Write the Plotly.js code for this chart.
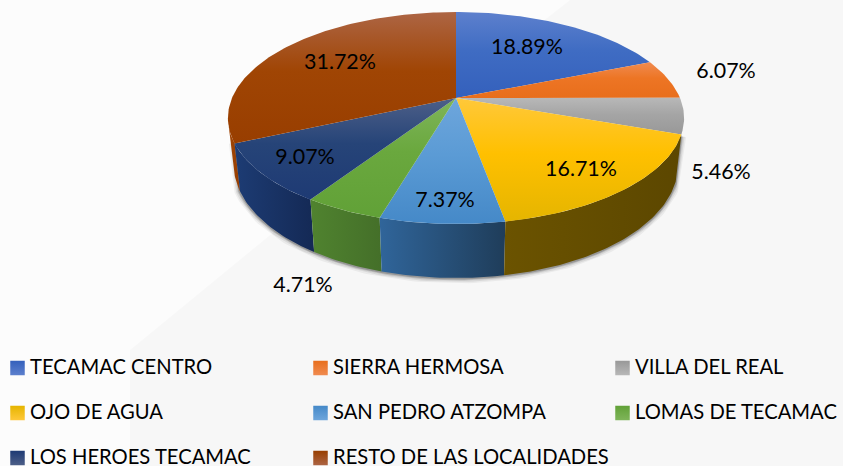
<!DOCTYPE html>
<html><head><meta charset="utf-8">
<script src="https://cdn.plot.ly/plotly-3.0.1.min.js"></script>
<style>html,body{margin:0;padding:0;background:#fcfcfc;overflow:hidden}</style></head>
<body><div id="chart" style="width:843px;height:466px"></div>
<script>
// ---- data ----
const categories = ["TECAMAC CENTRO","SIERRA HERMOSA","VILLA DEL REAL","OJO DE AGUA","SAN PEDRO ATZOMPA","LOMAS DE TECAMAC","LOS HEROES TECAMAC","RESTO DE LAS LOCALIDADES"];
const shares = [18.89,6.07,5.46,16.71,7.37,4.71,9.07,31.72];

// ---- styles ----
const topColors = [
  ["#5d80cd","#3f6cc3","#3460bc"],["#f08b50","#ed7524","#e86e1c"],["#b8b8b8","#a5a5a5","#989898"],
  ["#ffc83a","#ffc000","#e5b500"],["#6ea6dc","#5b9bd5","#4589c8"],["#7fb55a","#6aa83e","#61a137"],
  ["#4d5f88","#264478","#1e3a74"],["#ad6544","#a04504","#983e00"]];
const wallColors = [null,null,null,["#6b5300","#5c4700"],["#30659a","#1f3d5a"],["#50832f","#446f29"],["#1d3c74","#142955"],["#a04504","#963e02"]];
const legendTop = ["#5d80cd","#f08b50","#b8b8b8","#ffc83a","#6ea6dc","#7fb55a","#4d5f88","#ad6544"];
const legendBot = ["#3460bc","#e86e1c","#989898","#e5b500","#4589c8","#61a137","#1e3a74","#983e00"];
const FONT = "Lato, sans-serif";
// ---- geometry of the tilted disc, in chart pixels ----
const CX=456, CY=98, A=102.2, B=224, K=0.1887, WALL_FROM=109.5, WALL_TO=258;
const labelAt = [[527,48.5],[726,73],[721,174],[581,170.5],[445,201.5],[303,287],[305,158.5],[340,63.5]];
const legendX = [17.5,320.5,622.5], legendY = [368,413,458];

function rim(deg){const t=deg*Math.PI/180,u=Math.sin(t),v=-Math.cos(t),w=1-K*v;return {x:B*u/w,y:A*v/w,v};}
function topPt(d){const p=rim(d);return [CX+p.x,CY+p.y];}
function botPt(d){const p=rim(d);return [CX+p.x*0.975,CY+p.y+44+10*p.v];}
function arc(a,b,fn){const o=[],n=Math.max(2,Math.ceil(Math.abs(b-a)));for(let i=0;i<=n;i++)o.push(fn(a+(b-a)*i/n));return o;}
function hscale(c){return [[0,c[0]],[1,c[1]]];}
// the y axis runs downward, so the stops are listed from the lower edge up
function vscale(c){return [[0,c[2]],[0.55,c[1]],[1,c[0]]];}

const traces=[];
const base={type:'scatter',mode:'lines',fill:'toself',line:{width:0},hoverinfo:'skip',showlegend:false};
// soft shadow under the disc
[[11,0.05],[8,0.08],[5,0.12],[3,0.2]].forEach(([w,o])=>{
  const s=[topPt(WALL_FROM+1)].concat(arc(WALL_FROM,246,botPt));s.push(topPt(246));
  traces.push({type:'scatter',mode:'lines',x:s.map(p=>p[0]),y:s.map(p=>p[1]),line:{width:w,color:`rgba(0,0,0,${o})`},hoverinfo:'skip',showlegend:false});
});
let edges=[0];shares.forEach(s=>edges.push(edges[edges.length-1]+s*3.6));
// side walls
for(let i=shares.length-1;i>=0;i--){
  const a=Math.max(edges[i],WALL_FROM),b=Math.min(edges[i+1],WALL_TO);
  if(b<=a||!wallColors[i])continue;
  const pts=arc(a,b,topPt).concat(arc(b,a,botPt));pts.push(pts[0]);
  traces.push(Object.assign({},base,{x:pts.map(p=>p[0]),y:pts.map(p=>p[1]),
    fillgradient:{type:'horizontal',colorscale:hscale(wallColors[i])}}));
}
// top faces
shares.forEach((s,i)=>{
  const pts=[[CX,CY]].concat(arc(edges[i],edges[i+1],topPt));pts.push([CX,CY]);
  traces.push(Object.assign({},base,{name:categories[i],x:pts.map(p=>p[0]),y:pts.map(p=>p[1]),
    fillgradient:{type:'vertical',colorscale:vscale(topColors[i])}}));
});
// value labels
traces.push({type:'scatter',mode:'text',x:labelAt.map(p=>p[0]),y:labelAt.map(p=>p[1]),
  text:shares.map(s=>s.toFixed(2)+'%'),textposition:'middle center',textfont:{family:FONT,size:21.4,color:'#000'},hoverinfo:'skip',showlegend:false});
// legend entries
categories.forEach((c,i)=>{
  const lx=legendX[i%3], ly=legendY[Math.floor(i/3)];
  traces.push({type:'scatter',mode:'markers',name:c,x:[lx],y:[ly],hoverinfo:'skip',showlegend:false,cliponaxis:false,
    marker:{symbol:'square',size:14.5,color:legendBot[i],gradient:{type:'vertical',color:legendTop[i]},line:{width:0}}});
  traces.push({type:'scatter',mode:'text',x:[lx+12.5],y:[ly+1],text:[c],textposition:'middle right',
    textfont:{family:FONT,size:20.2,color:'#000'},cliponaxis:false,hoverinfo:'skip',showlegend:false});
});
const layout={width:843,height:466,margin:{l:0,r:0,t:0,b:0},paper_bgcolor:'#fcfcfc',plot_bgcolor:'rgba(0,0,0,0)',showlegend:false,
  xaxis:{range:[0,843],visible:false,fixedrange:true},yaxis:{range:[466,0],visible:false,fixedrange:true},
  shapes:[
   {type:'path',layer:'below',path:'M 130 466 L 130 350 L 270 235 L 570 0 L 843 0 L 843 466 Z',fillcolor:'rgba(0,0,0,0.02)',line:{width:0}}
  ]};
Plotly.newPlot('chart',traces,layout,{displayModeBar:false,staticPlot:true});
</script></body></html>
